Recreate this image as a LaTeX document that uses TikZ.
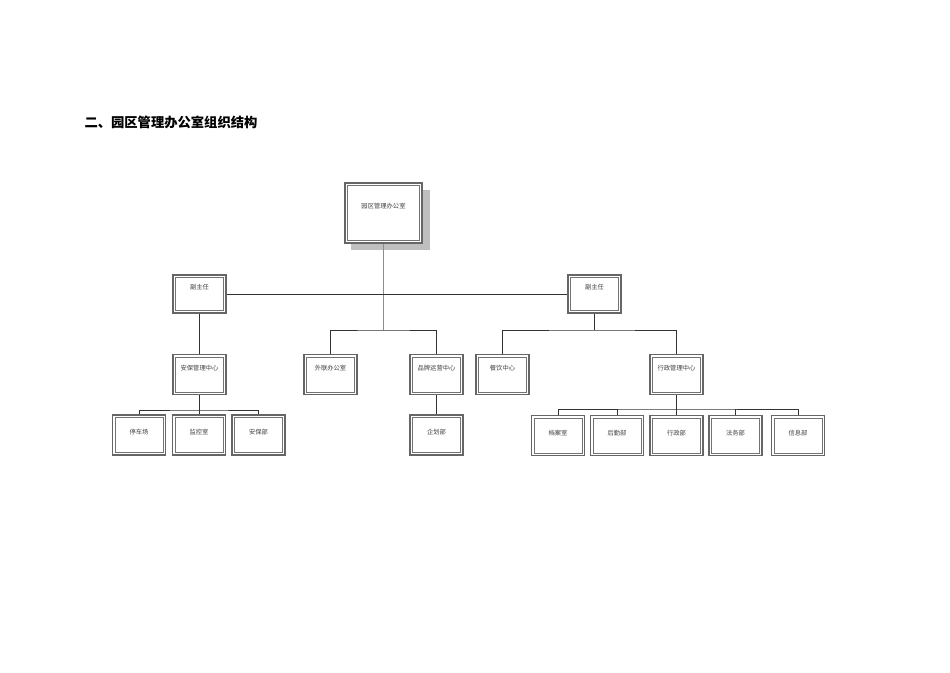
\documentclass[tikz,border=0pt]{standalone}
\usepackage{fontspec}
\newfontfamily\cjk{Noto Sans CJK SC}
\begin{document}
\begin{tikzpicture}[x=1pt,y=-1pt,
  orgbox/.style={draw=black!60,line width=1.4pt,fill=white,
    minimum width=53pt,minimum height=40pt,inner sep=0pt,font=\cjk\fontsize{6.3}{7}\selectfont,text=black!75,
    path picture={\draw[black!55,line width=0.5pt]
      ([shift={(2.4pt,-2.4pt)}]path picture bounding box.north west) rectangle
      ([shift={(-2.4pt,2.4pt)}]path picture bounding box.south east);}},
  up/.style={text height=5pt,text depth=14pt},
  mid/.style={text height=5pt,text depth=6pt},
  conn/.style={draw=black!80,line width=0.6pt}]
\useasboundingbox (0,0) rectangle (950,672);
\node[anchor=west,font=\cjk\bfseries\fontsize{13.3}{15}\selectfont] (title) at (81,122) {二、园区管理办公室组织结构};
% junctions
\coordinate (j1) at (383.5,330);
\coordinate (j2) at (594.5,330);
\coordinate (j3) at (199.5,410);
\coordinate (j4) at (676.5,409);
% top
\fill[black!25] (351,190) rectangle (430,250);
\node[orgbox,minimum width=77pt,minimum height=60pt,text height=5pt,text depth=14pt] (top) at (383.5,213) {园区管理办公室};
% level 1
\node[orgbox,minimum height=38pt,up] (vp1) at (199.5,294) {副主任};
\node[orgbox,minimum height=38pt,up] (vp2) at (594.5,294) {副主任};
% level 2
\node[orgbox,up] (ab) at (199.5,374.5) {安保管理中心};
\node[orgbox,up] (wl) at (330.5,374.5) {外联办公室};
\node[orgbox,up] (pp) at (436.5,374.5) {品牌运营中心};
\node[orgbox,up] (cy) at (502.5,374.5) {餐饮中心};
\node[orgbox,up] (xz) at (676.5,374.5) {行政管理中心};
% level 3
\node[orgbox,mid] (tc) at (139,435) {停车场};
\node[orgbox,mid] (jk) at (199,435) {监控室};
\node[orgbox,mid] (abb) at (258.5,435) {安保部};
\node[orgbox,mid] (qh) at (436.5,435) {企划部};
\node[orgbox,mid] (da) at (558,435.5) {档案室};
\node[orgbox,mid] (hq) at (617,435.5) {后勤部};
\node[orgbox,mid] (xzb) at (676.5,435.5) {行政部};
\node[orgbox,mid] (fw) at (735.5,435.5) {法务部};
\node[orgbox,mid] (xx) at (798,435.5) {信息部};
% connectors
\draw[conn,black!45] (top.south) -- (j1);
\draw[conn] (vp1.east) -- (vp2.west);
\draw[conn] (wl.north) |- (j1) -| (pp.north);
\draw[conn] (vp1.south) -- (ab.north);
\draw[conn] (vp2.south) -- (j2);
\draw[conn] (cy.north) |- (j2) -| (xz.north);
\draw[conn] (ab.south) -- (j3);
\draw[conn] (tc.north) |- (j3) -| (abb.north);
\draw[conn] (jk.north) -- (jk.north |- j3);
\draw[conn] (pp.south) -- (qh.north);
\draw[conn] (xz.south) -- (xzb.north);
\draw[conn] (da.north) |- (j4) -| (xx.north);
\draw[conn] (hq.north) -- (hq.north |- j4);
\draw[conn] (fw.north) -- (fw.north |- j4);
\end{tikzpicture}
\end{document}
